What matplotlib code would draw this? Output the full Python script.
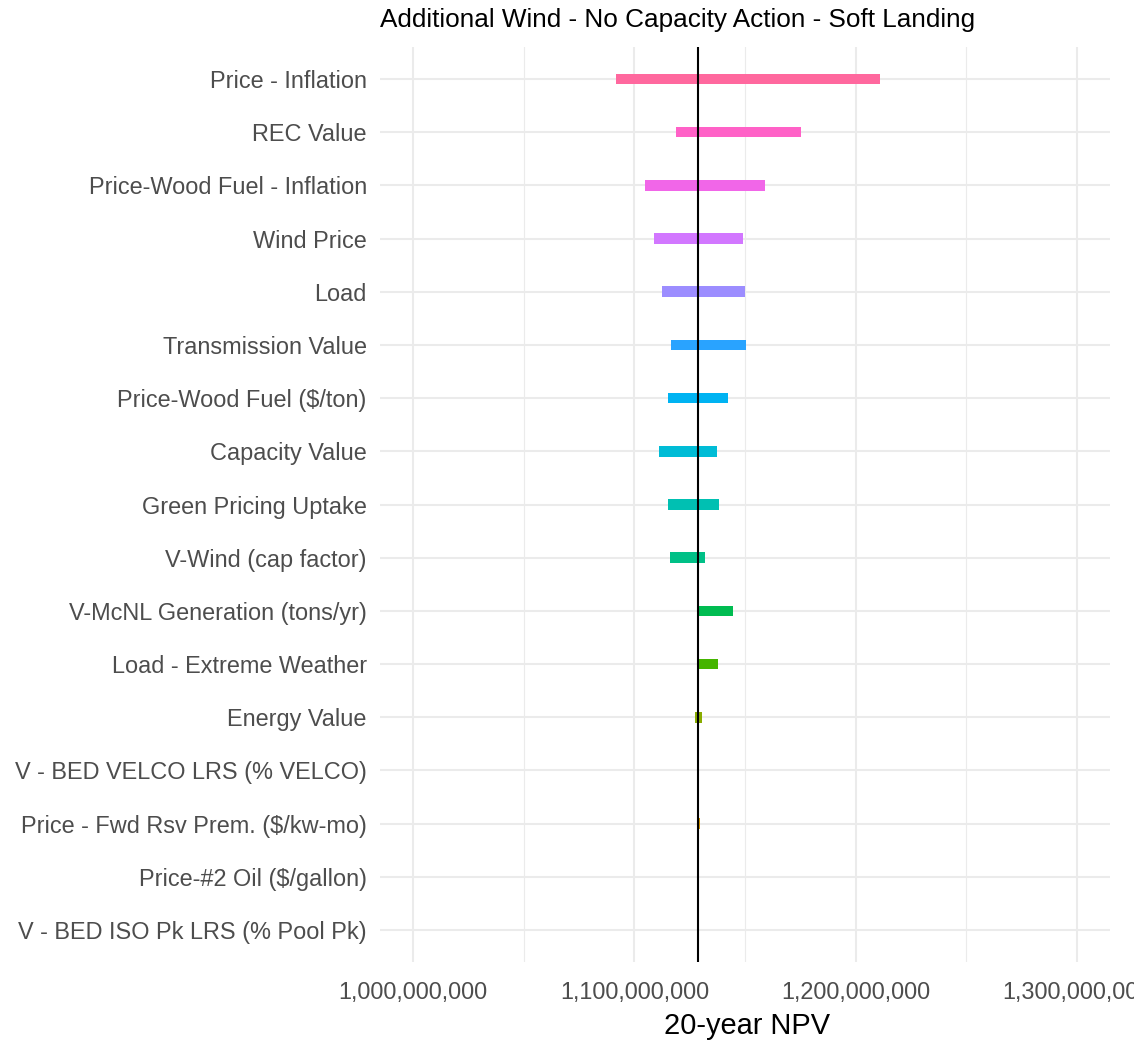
import numpy as np
import matplotlib
matplotlib.use("Agg")
import matplotlib.pyplot as plt
from matplotlib.ticker import FuncFormatter, MultipleLocator

# ---- data (top to bottom as displayed) ----
categories = [
    "Price - Inflation",
    "REC Value",
    "Price-Wood Fuel - Inflation",
    "Wind Price",
    "Load",
    "Transmission Value",
    "Price-Wood Fuel ($/ton)",
    "Capacity Value",
    "Green Pricing Uptake",
    "V-Wind (cap factor)",
    "V-McNL Generation (tons/yr)",
    "Load - Extreme Weather",
    "Energy Value",
    "V - BED VELCO LRS (% VELCO)",
    "Price - Fwd Rsv Prem. ($/kw-mo)",
    "Price-#2 Oil ($/gallon)",
    "V - BED ISO Pk LRS (% Pool Pk)",
]
low_npv = [1091.7e6, 1118.7e6, 1105.0e6, 1108.8e6, 1112.5e6, 1116.6e6, 1115.2e6,
           1111.3e6, 1115.4e6, 1116.3e6, 1128.7e6, 1128.7e6, 1127.5e6, 1128.7e6,
           1128.5e6, 1128.7e6, 1128.7e6]
high_npv = [1211.0e6, 1175.1e6, 1159.1e6, 1149.0e6, 1150.2e6, 1150.5e6, 1142.1e6,
            1137.4e6, 1138.3e6, 1131.7e6, 1144.6e6, 1138.0e6, 1130.7e6, 1128.7e6,
            1129.8e6, 1128.7e6, 1128.7e6]
base_npv = 1128.7e6
x_ticks = [1.0e9, 1.1e9, 1.2e9, 1.3e9]
title = "Additional Wind - No Capacity Action - Soft Landing"
xlabel = "20-year NPV"


def hcl_to_hex(h, c, l):
    Xn, Yn, Zn = 95.047, 100.0, 108.883
    hr = np.deg2rad(h)
    U = c * np.cos(hr)
    V = c * np.sin(hr)
    L = l
    Y = Yn * ((L + 16) / 116) ** 3 if L > 8 else Yn * L / 903.3
    t = Xn + Yn + Zn
    x = Xn / t
    y = Yn / t
    uN = 2 * x / (6 * y - x + 1.5)
    vN = 4.5 * y / (6 * y - x + 1.5)
    u = U / (13 * L) + uN
    v = V / (13 * L) + vN
    X = 9.0 * Y * u / (4 * v)
    Z = -X / 3 - 5 * Y + 3 * Y / v
    X, Y, Z = X / 100, Y / 100, Z / 100
    r = 3.240479 * X - 1.537150 * Y - 0.498535 * Z
    g = -0.969256 * X + 1.875992 * Y + 0.041556 * Z
    b = 0.055648 * X - 0.204043 * Y + 1.057311 * Z

    def gam(c_):
        c_ = 12.92 * c_ if c_ <= 0.0031308 else 1.055 * c_ ** (1 / 2.4) - 0.055
        return min(max(c_, 0), 1)
    return (gam(r), gam(g), gam(b))


n = len(categories)
hues = np.linspace(15, 375, n + 1)[:n]
# factor level 1 is bottom category
colors_bottom_up = [hcl_to_hex(hh, 100, 65) for hh in hues]

plt.rcParams['font.family'] = ['Liberation Sans', 'DejaVu Sans']

W, H = 1134, 1040
fig = plt.figure(figsize=(W / 100, H / 100), dpi=100)
left, right, top, bottom = 380, 1110, 47, 962
ax = fig.add_axes([left / W, 1 - bottom / H, (right - left) / W, (bottom - top) / H])

ypos = np.arange(n)[::-1]  # top category at highest y
for i, cat in enumerate(categories):
    yy = ypos[i]
    col = colors_bottom_up[yy]
    lo, hi = low_npv[i], high_npv[i]
    ax.barh(yy, hi - lo, left=lo, height=0.2, color=col, linewidth=0, zorder=3)

ax.axvline(base_npv, color='black', linewidth=1.5, zorder=4)

ax.set_xlim(985e6, 1315e6)
ax.set_ylim(-0.6, n - 1 + 0.6)
ax.set_yticks(ypos)
ax.set_yticklabels(categories)
ax.set_xticks(x_ticks)
ax.xaxis.set_minor_locator(MultipleLocator(50e6))
ax.xaxis.set_major_formatter(FuncFormatter(lambda v, p: f"{v:,.0f}"))

ax.grid(True, which='major', color='#EBEBEB', linewidth=1.5, zorder=0)
ax.grid(True, which='minor', axis='x', color='#EBEBEB', linewidth=0.8, zorder=0)
ax.set_axisbelow(True)
for s in ax.spines.values():
    s.set_visible(False)
ax.tick_params(axis='both', which='both', length=0)
ax.tick_params(axis='y', labelsize=16.9, labelcolor='#4D4D4D', pad=9.5)
ax.tick_params(axis='x', labelsize=16.9, labelcolor='#4D4D4D', pad=13.5)

fig.text(664 / W + (830 - 664) / 2 / W, 1 - 1033.5 / H, xlabel, ha='center', va='baseline',
         fontsize=20.9, color='black')
fig.text(left / W, 1 - 27.5 / H, title, ha='left', va='baseline', fontsize=18.8, color='black')

fig.savefig("out.png", dpi=100, facecolor='white')
